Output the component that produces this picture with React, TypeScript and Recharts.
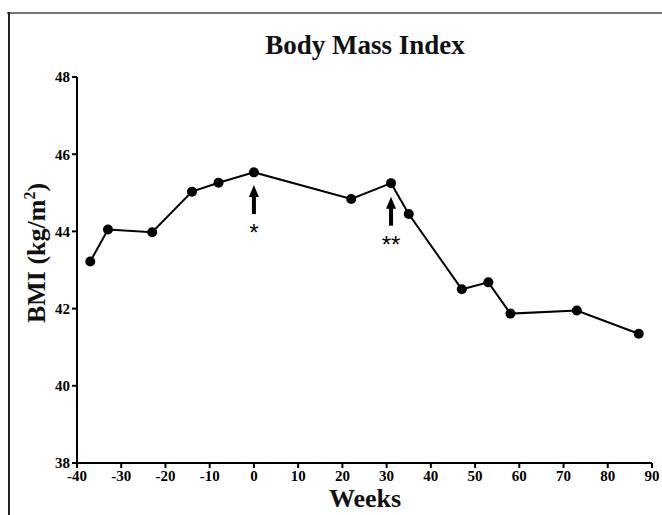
import React from 'react';
import { LineChart, Line, XAxis, YAxis, ReferenceDot } from 'recharts';

const weeks = [-37, -33, -23, -14, -8, 0, 22, 31, 35, 47, 53, 58, 73, 87];
const bmi = [43.22, 44.05, 43.98, 45.03, 45.26, 45.53, 44.84, 45.25, 44.45, 42.5, 42.68, 41.87, 41.95, 41.35];
const xTicks = [-40, -30, -20, -10, 0, 10, 20, 30, 40, 50, 60, 70, 80, 90];
const yTicks = [38, 40, 42, 44, 46, 48];
const markers = [
  { week: 0, bmi: 45.2, mark: '*' },
  { week: 31, bmi: 44.9, mark: '**' },
];

const data = weeks.map((w, i) => ({ week: w, bmi: bmi[i] }));

const serif = '"Liberation Serif", "Times New Roman", serif';

function Arrow({ cx, cy, mark }: { cx: number; cy: number; mark: string }) {
  return (
    <g>
      <polygon points={`${cx},${cy} ${cx - 5},${cy + 12} ${cx + 5},${cy + 12}`} fill="#000" />
      <rect x={cx - 2} y={cy + 10} width={4} height={19} fill="#000" />
      <text x={cx} y={cy + 56} textAnchor="middle" fontSize={24} fontFamily="'Liberation Sans', Arial, sans-serif" fill="#000" stroke="none">
        {mark}
      </text>
    </g>
  );
}

export default function App() {
  return (
    <div style={{ position: 'relative', width: 662, height: 515, background: '#fff', overflow: 'hidden' }}>
      <style>{`body{margin:0}`}</style>
      <div style={{ position: 'absolute', left: 0, top: 30, width: 730, textAlign: 'center', fontFamily: serif, fontWeight: 'bold', fontSize: 27, color: '#111' }}>
        Body Mass Index
      </div>
      <svg style={{ position: 'absolute', left: 0, top: 0 }} width={662} height={515}>
        <line x1={7} y1={13} x2={662} y2={13} stroke="#777" strokeWidth={2} />
        <line x1={9} y1={12} x2={9} y2={515} stroke="#222" strokeWidth={2} />
        <text transform="translate(45,253) rotate(-90)" textAnchor="middle" fontFamily={serif} fontWeight="bold" fontSize={26} fill="#111">
          BMI (kg/m<tspan dy={-10} fontSize={16}>2</tspan><tspan dy={10}>)</tspan>
        </text>
        <text x={365} y={507} textAnchor="middle" fontFamily={serif} fontWeight="bold" fontSize={26} fill="#111">Weeks</text>
      </svg>
      <div style={{ position: 'absolute', left: 0, top: 0 }}>
        <LineChart width={662} height={515} data={data} margin={{ top: 77, right: 10, left: 37, bottom: 22 }}>
          <XAxis
            dataKey="week"
            type="number"
            domain={[-40, 90]}
            ticks={xTicks}
            interval={0}
            height={30}
            axisLine={{ stroke: '#000', strokeWidth: 2 }}
            tickLine={{ stroke: '#000', strokeWidth: 2 }}
            tickSize={5}
            tick={{ fill: '#000', fontFamily: serif, fontWeight: 'bold', fontSize: 15 }}
          />
          <YAxis
            type="number"
            domain={[38, 48]}
            ticks={yTicks}
            interval={0}
            width={40}
            axisLine={{ stroke: '#000', strokeWidth: 2 }}
            tickLine={{ stroke: '#000', strokeWidth: 2 }}
            tickSize={5}
            tick={{ fill: '#000', fontFamily: serif, fontWeight: 'bold', fontSize: 15 }}
          />
          <Line
            dataKey="bmi"
            stroke="#000"
            strokeWidth={2}
            dot={{ r: 5, fill: '#000', stroke: '#000', strokeWidth: 0 }}
            activeDot={false}
            isAnimationActive={false}
          />
          {markers.map((m) => (
            <ReferenceDot
              key={m.week}
              x={m.week}
              y={m.bmi}
              shape={(p: any) => <Arrow cx={p.cx} cy={p.cy} mark={m.mark} />}
            />
          ))}
        </LineChart>
      </div>
    </div>
  );
}
